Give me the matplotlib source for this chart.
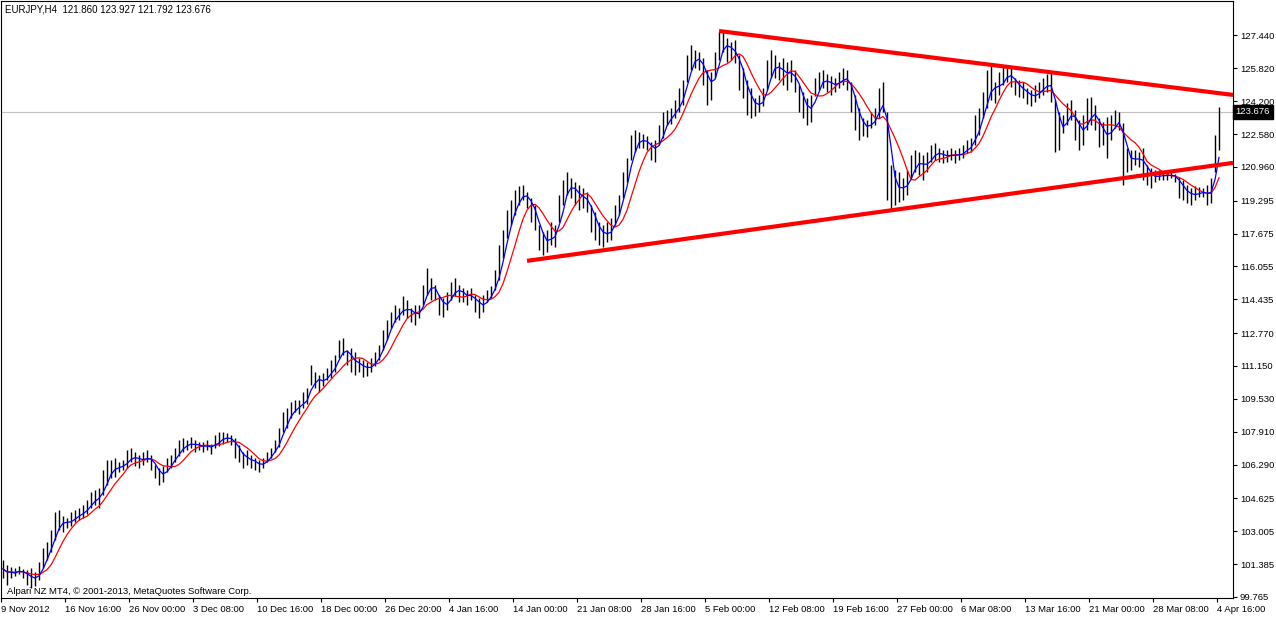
import numpy as np
import pandas as pd
import matplotlib
matplotlib.use('Agg')
import matplotlib.pyplot as plt
import matplotlib.transforms as mtransforms

# header info of the last bar: open, high, low, close
symbol = 'EURJPY,H4'
last_ohlc = [121.860, 123.927, 121.792, 123.676]
copyright_text = 'Alpari NZ MT4, \u00a9 2001-2013, MetaQuotes Software Corp.'

bar_high = [
    101.59, 101.34, 101.24, 101.19, 101.29, 101.14, 101.09, 101.19, 101.00, 101.49,
    102.18, 102.47, 103.07, 103.95, 104.05, 103.76, 103.66, 103.95, 104.05, 104.15,
    104.30, 104.55, 104.94, 105.04, 105.14, 106.02, 106.52, 106.52, 106.62, 106.42,
    106.52, 107.01, 107.11, 106.91, 106.76, 106.91, 107.01, 106.76, 106.27, 106.12,
    106.22, 106.62, 106.76, 107.11, 107.50, 107.60, 107.50, 107.65, 107.50, 107.40,
    107.40, 107.50, 107.30, 107.75, 107.90, 107.90, 107.85, 107.75, 107.60, 107.25,
    106.91, 107.01, 106.76, 106.62, 106.52, 106.62, 106.91, 107.11, 107.50, 108.09,
    108.88, 109.08, 109.38, 109.47, 109.47, 109.87, 110.07, 111.20, 110.86, 110.71,
    110.81, 111.05, 111.45, 111.69, 112.43, 112.53, 111.94, 112.04, 111.84, 111.54,
    111.45, 111.35, 111.54, 111.84, 112.19, 112.92, 113.42, 113.81, 114.16, 114.01,
    114.60, 114.40, 114.01, 114.16, 114.16, 115.14, 115.98, 115.49, 115.14, 114.65,
    114.50, 114.80, 115.29, 115.49, 115.14, 114.99, 114.89, 114.99, 114.65, 114.50,
    114.65, 114.89, 115.09, 115.88, 117.11, 117.85, 118.84, 119.33, 119.83, 120.02,
    120.07, 119.73, 119.43, 119.09, 118.10, 117.76, 117.85, 118.25, 118.10, 119.58,
    120.32, 120.71, 120.42, 120.22, 120.07, 119.92, 119.73, 119.09, 118.74, 118.25,
    118.10, 118.25, 118.44, 119.09, 119.58, 120.71, 121.40, 122.54, 122.78, 122.68,
    122.59, 122.49, 122.19, 122.29, 123.03, 123.67, 123.77, 123.87, 124.26, 124.85,
    125.25, 126.48, 126.97, 126.73, 126.63, 126.33, 125.74, 125.64, 126.63, 127.61,
    127.71, 127.32, 127.12, 127.22, 126.48, 125.84, 125.25, 124.85, 124.36, 124.51,
    124.85, 126.23, 126.73, 126.48, 126.13, 126.33, 126.13, 126.23, 125.74, 125.00,
    124.66, 124.36, 124.51, 125.35, 125.64, 125.74, 125.54, 125.44, 125.35, 125.64,
    125.84, 125.74, 125.15, 124.51, 123.87, 123.37, 123.28, 123.67, 123.87, 124.85,
    125.15, 123.67, 121.06, 120.81, 120.71, 120.42, 120.81, 121.55, 121.80, 121.70,
    121.55, 121.70, 122.04, 122.14, 121.90, 121.80, 121.80, 121.90, 121.80, 121.90,
    122.04, 122.29, 122.39, 123.52, 123.87, 124.66, 125.74, 125.99, 125.15, 125.64,
    125.89, 125.99, 125.84, 125.35, 125.25, 125.15, 124.85, 124.75, 125.00, 125.15,
    125.35, 125.54, 125.64, 124.26, 123.67, 123.52, 124.11, 124.26, 123.77, 123.28,
    123.52, 124.36, 124.41, 124.01, 123.37, 123.18, 123.42, 123.52, 123.77, 123.67,
    123.13, 121.90, 121.80, 121.80, 121.70, 121.90, 121.06, 120.91, 120.81, 120.81,
    120.71, 120.71, 120.81, 120.61, 120.47, 120.32, 120.07, 119.92, 120.02, 119.97,
    119.92, 120.07, 120.42, 122.54, 123.93,
]

bar_low = [
    100.70, 100.36, 100.70, 100.80, 100.90, 100.70, 100.36, 100.21, 100.31, 100.60,
    101.19, 101.59, 101.98, 102.57, 103.07, 102.97, 103.16, 103.26, 103.46, 103.56,
    103.66, 103.85, 104.15, 104.30, 104.15, 104.79, 105.28, 105.63, 105.68, 105.93,
    106.02, 106.12, 106.42, 106.22, 106.12, 106.27, 106.42, 106.02, 105.63, 105.28,
    105.43, 105.93, 106.12, 106.42, 106.71, 106.91, 107.01, 107.11, 106.91, 107.01,
    106.91, 107.01, 106.81, 107.11, 107.21, 107.30, 107.40, 107.25, 106.62, 106.42,
    106.12, 106.27, 106.12, 106.02, 105.93, 106.12, 106.42, 106.62, 106.91, 107.16,
    107.90, 108.09, 108.58, 108.88, 108.78, 109.08, 109.28, 110.21, 110.07, 109.87,
    110.17, 110.46, 110.56, 110.86, 111.54, 111.69, 111.20, 110.86, 110.71, 110.86,
    110.61, 110.66, 110.86, 111.15, 111.45, 111.94, 112.43, 113.02, 113.32, 113.42,
    113.66, 113.51, 113.32, 113.17, 113.51, 114.16, 114.65, 114.40, 114.40, 113.66,
    113.56, 113.91, 114.40, 114.60, 114.30, 114.30, 114.16, 114.40, 113.81, 113.51,
    113.81, 114.30, 114.50, 114.89, 115.39, 116.47, 117.46, 118.10, 118.59, 119.09,
    119.33, 118.94, 118.25, 117.85, 116.87, 116.62, 116.77, 117.11, 117.02, 118.25,
    119.09, 119.58, 119.43, 119.09, 118.84, 118.94, 118.74, 117.76, 117.36, 117.11,
    117.02, 117.26, 117.36, 118.10, 118.59, 119.43, 120.22, 121.30, 121.70, 121.90,
    121.90, 121.80, 121.30, 121.21, 122.04, 122.39, 123.03, 123.08, 123.37, 123.67,
    124.01, 125.15, 125.74, 125.84, 125.74, 125.00, 124.01, 124.26, 125.35, 126.23,
    126.63, 126.13, 126.23, 126.08, 124.75, 124.36, 123.52, 123.37, 123.47, 123.67,
    123.97, 124.75, 125.35, 125.35, 125.25, 125.00, 124.75, 125.15, 124.66, 123.67,
    123.37, 123.03, 123.18, 124.46, 124.75, 124.85, 124.66, 124.51, 124.66, 124.85,
    125.00, 124.75, 123.67, 122.78, 122.29, 122.49, 122.44, 122.88, 123.03, 123.37,
    123.67, 119.33, 118.84, 119.09, 119.23, 119.33, 119.58, 120.42, 120.71, 120.56,
    120.32, 120.71, 121.21, 121.30, 121.21, 121.16, 121.21, 121.30, 121.16, 121.30,
    121.40, 121.65, 121.70, 122.04, 122.54, 123.37, 123.87, 124.26, 124.11, 124.51,
    125.00, 125.15, 124.90, 124.51, 124.41, 124.36, 124.06, 123.97, 124.16, 124.36,
    124.51, 124.66, 124.16, 121.70, 121.80, 122.63, 123.03, 123.28, 122.29, 121.80,
    122.04, 122.78, 123.03, 122.78, 121.94, 122.04, 121.40, 122.29, 122.88, 122.78,
    120.07, 120.71, 120.81, 121.06, 120.96, 120.32, 120.07, 119.92, 120.22, 120.32,
    120.32, 120.32, 120.42, 120.22, 119.43, 119.33, 119.18, 119.09, 119.33, 119.48,
    119.48, 119.09, 119.18, 120.71, 121.79,
]

time_labels = ['9 Nov 2012', '16 Nov 16:00', '26 Nov 00:00', '3 Dec 08:00',
               '10 Dec 16:00', '18 Dec 00:00', '26 Dec 20:00', '4 Jan 16:00',
               '14 Jan 00:00', '21 Jan 08:00', '28 Jan 16:00', '5 Feb 00:00',
               '12 Feb 08:00', '19 Feb 16:00', '27 Feb 00:00', '6 Mar 08:00',
               '13 Mar 16:00', '21 Mar 00:00', '28 Mar 08:00', '4 Apr 16:00']
bars_per_label = 16

price_ticks = [127.440, 125.820, 124.200, 122.580, 120.960, 119.295, 117.675,
               116.055, 114.435, 112.770, 111.150, 109.530, 107.910, 106.290,
               104.625, 103.005, 101.385, 99.765]

# trend lines as (bar index, price) anchors
trend_top = [(179, 127.66), (307.5, 124.51)]
trend_bottom = [(131, 116.33), (307.5, 121.16)]

fast_period = 3
slow_period = 7


def plot_chart():
    high = np.array(bar_high)
    low = np.array(bar_low)
    idx = np.arange(len(high))

    median = pd.Series((high + low) / 2)
    fast_ma = median.rolling(fast_period, min_periods=1).mean()
    slow_ma = median.rolling(slow_period, min_periods=1).mean()

    plt.rcParams['font.family'] = ['Liberation Sans', 'DejaVu Sans']
    fig = plt.figure(figsize=(12.76, 6.18), dpi=100)
    ax = fig.add_axes([1 / 1276, 20 / 618, 1232 / 1276, 597 / 618])

    ax.axhline(last_ohlc[3], color='#C0C0C0', lw=0.8, zorder=1)
    ax.vlines(idx, low, high, color='black', lw=1.0, zorder=2)
    ax.plot(idx, slow_ma, color='#FF0000', lw=0.9, zorder=3)
    ax.plot(idx, fast_ma, color='#0000FF', lw=0.9, zorder=4)

    for line in (trend_top, trend_bottom):
        xs, ys = zip(*line)
        ax.plot(xs, ys, color='#FF0000', lw=3, solid_capstyle='butt', zorder=5)

    ax.set_xlim(-0.5, 307.5)
    ax.set_ylim(99.71, 129.14)

    ax.yaxis.tick_right()
    ax.set_yticks(price_ticks)
    ax.set_yticklabels(['%.3f' % p for p in price_ticks])
    ax.tick_params(axis='y', direction='out', length=3, width=0.8, pad=2,
                   labelsize=6.8, colors='black')

    ax.set_xticks(np.arange(len(time_labels)) * bars_per_label - 0.5)
    ax.set_xticklabels(time_labels, ha='left')
    ax.tick_params(axis='x', direction='out', length=3, width=0.8, pad=2,
                   labelsize=6.8, colors='black')

    for s in ax.spines.values():
        s.set_color('black')
        s.set_linewidth(0.8)

    # current price box on the price scale
    trans = mtransforms.blended_transform_factory(ax.transAxes, ax.transData)
    ax.text(1.002, last_ohlc[3], '%.3f' % last_ohlc[3], transform=trans,
            color='white', fontsize=6.8, va='center', ha='left',
            bbox=dict(boxstyle='square,pad=0.3', fc='black', ec='black'))

    header = '%s  %s' % (symbol, ' '.join('%.3f' % v for v in last_ohlc))
    fig.text(5 / 1276, 1 - 10 / 618, header, fontsize=7, va='center', ha='left')
    fig.text(7 / 1276, 1 - 592 / 618, copyright_text, fontsize=6.8,
             va='center', ha='left')

    fig.savefig('out.png', dpi=100)
    return fig


if __name__ == "__main__":
    plot_chart()
